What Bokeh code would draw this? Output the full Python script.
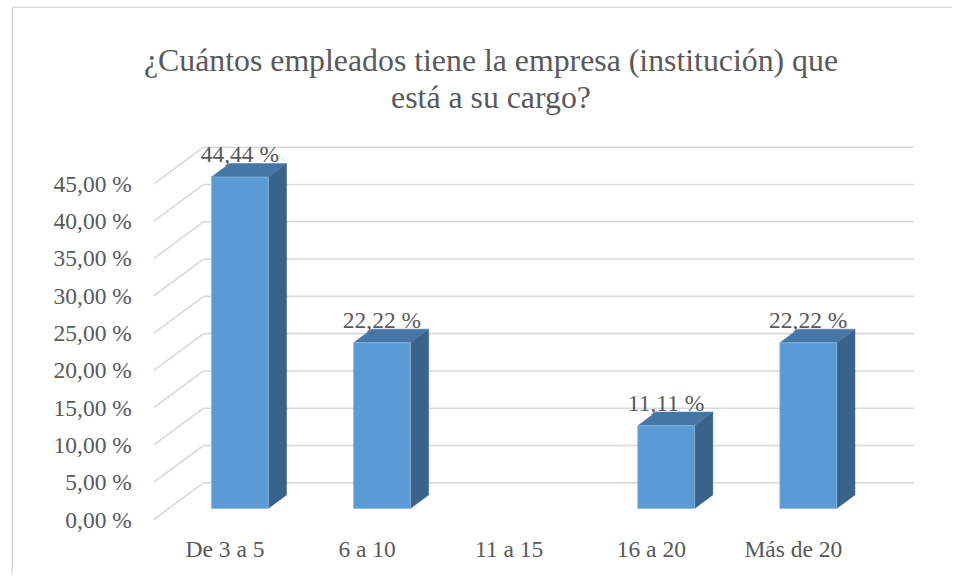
from bokeh.plotting import figure
from bokeh.models import FixedTicker, LinearAxis, Range1d, Label
from bokeh.core.properties import value
from bokeh.embed import file_html
from bokeh.resources import INLINE

# ---------------- data ----------------
categories = ["De 3 a 5", "6 a 10", "11 a 15", "16 a 20", "Más de 20"]
values = [44.44, 22.22, 0.0, 11.11, 22.22]
value_labels = ["44,44 %", "22,22 %", "0,00 %", "11,11 %", "22,22 %"]
y_ticks = [0, 5, 10, 15, 20, 25, 30, 35, 40, 45]
y_tick_labels = ["0,00 %", "5,00 %", "10,00 %", "15,00 %", "20,00 %",
                 "25,00 %", "30,00 %", "35,00 %", "40,00 %", "45,00 %"]
title_lines = ["¿Cuántos empleados tiene la empresa (institución) que",
               "está a su cargo?"]

# ---------------- layout constants ----------------
W, H = 952, 574
PX_X = 142.1          # pixels per category step
PX_Y = 7.458          # pixels per percent
X0 = 224.5            # canvas px of first category (front floor edge)
Y0 = 519.0            # canvas px (from top) of 0 % at the front floor edge
DX = 49.5 / PX_X      # floor depth vector, data units
DY = 36.7 / PX_Y
F0 = 0.30             # bar front position as fraction of depth
BD = 0.37             # bar depth as fraction of floor depth
HW = 28.4 / PX_X      # half bar width
FONT = "'Liberation Serif'"
TXT = "#595959"
GRID = "#d9d9d9"
FRONT = "#5B9BD5"
TOP = "#4676A6"
SIDE = "#39638B"

XMIN, XMAX = -X0 / PX_X, (W - X0) / PX_X
YMIN, YMAX = -(H - Y0) / PX_Y, Y0 / PX_Y

p = figure(width=W, height=H, output_backend="svg", toolbar_location=None,
           x_range=Range1d(XMIN, XMAX), y_range=Range1d(YMIN, YMAX),
           x_axis_type=None, y_axis_type=None,
           min_border=0, min_border_left=0, min_border_right=0,
           min_border_top=0, min_border_bottom=0)
p.outline_line_color = None
p.background_fill_color = "white"
p.border_fill_color = "white"

# outer chart border (top and left visible)
bx = (11.7 - X0) / PX_X
by = (Y0 - 6.7) / PX_Y
p.segment(x0=[bx, bx], y0=[YMIN, by], x1=[bx, XMAX], y1=[by, by],
          line_color=GRID, line_width=1.5)

# back wall gridlines + side wall diagonals
xl, xr = -0.5, len(categories) - 0.5
p.segment(x0=[xl + DX] * len(y_ticks), y0=[t + DY for t in y_ticks],
          x1=[xr + DX] * len(y_ticks), y1=[t + DY for t in y_ticks],
          line_color=GRID, line_width=1.6)
p.segment(x0=[xl] * len(y_ticks), y0=y_ticks,
          x1=[xl + DX] * len(y_ticks), y1=[t + DY for t in y_ticks],
          line_color=GRID, line_width=1.6)

# 3D bars
fx, fy = F0 * DX, F0 * DY
bdx, bdy = BD * DX, BD * DY
idx = [i for i, v in enumerate(values) if v > 0]
cx = [i + fx for i in idx]
vv = [values[i] for i in idx]

top_xs, top_ys, side_xs, side_ys = [], [], [], []
for c, v in zip(cx, vv):
    l, r = c - HW, c + HW
    t = v + fy
    top_xs.append([l, r, r + bdx, l + bdx])
    top_ys.append([t, t, t + bdy, t + bdy])
    side_xs.append([r, r, r + bdx, r + bdx])
    side_ys.append([fy, t, t + bdy, fy + bdy])

p.patches(side_xs, side_ys, fill_color=SIDE, line_color=SIDE, line_width=0.5)
p.patches(top_xs, top_ys, fill_color=TOP, line_color=TOP, line_width=0.5)
p.quad(left=[c - HW for c in cx], right=[c + HW for c in cx],
       bottom=[fy] * len(cx), top=[v + fy for v in vv],
       fill_color=FRONT, line_color="#8DB8E2", line_width=0.8)

# data labels
p.text(x=cx, y=[v + fy for v in vv], text=[value_labels[i] for i in idx],
       y_offset=-23, text_align="center", text_baseline="middle",
       text_font=value(FONT), text_font_size="23.5px", text_color=TXT)

# axes
yax = LinearAxis(fixed_location=xl, ticker=FixedTicker(ticks=y_ticks),
                 major_label_overrides={t: s for t, s in zip(y_ticks, y_tick_labels)})
yax.axis_line_color = None
yax.major_tick_line_color = None
yax.minor_tick_line_color = None
yax.major_label_standoff = 16
yax.major_label_text_font = FONT
yax.major_label_text_font_size = "23.5px"
yax.major_label_text_color = TXT
p.add_layout(yax, "left")

xax = LinearAxis(fixed_location=0, ticker=FixedTicker(ticks=list(range(len(categories)))),
                 major_label_overrides={i: c for i, c in enumerate(categories)})
xax.axis_line_color = None
xax.major_tick_line_color = None
xax.minor_tick_line_color = None
xax.major_label_standoff = 10
xax.major_label_text_font = FONT
xax.major_label_text_font_size = "23.5px"
xax.major_label_text_color = TXT
p.add_layout(xax, "below")

# title (two centered lines)
for line, base in zip(title_lines, [60, 97]):
    p.add_layout(Label(x=490.5, y=H - base, x_units="screen", y_units="screen",
                       text=line, text_align="center", text_baseline="alphabetic",
                       text_font=FONT, text_font_size="31.8px", text_color=TXT))

open("out.html", "w").write(file_html(p, INLINE))
